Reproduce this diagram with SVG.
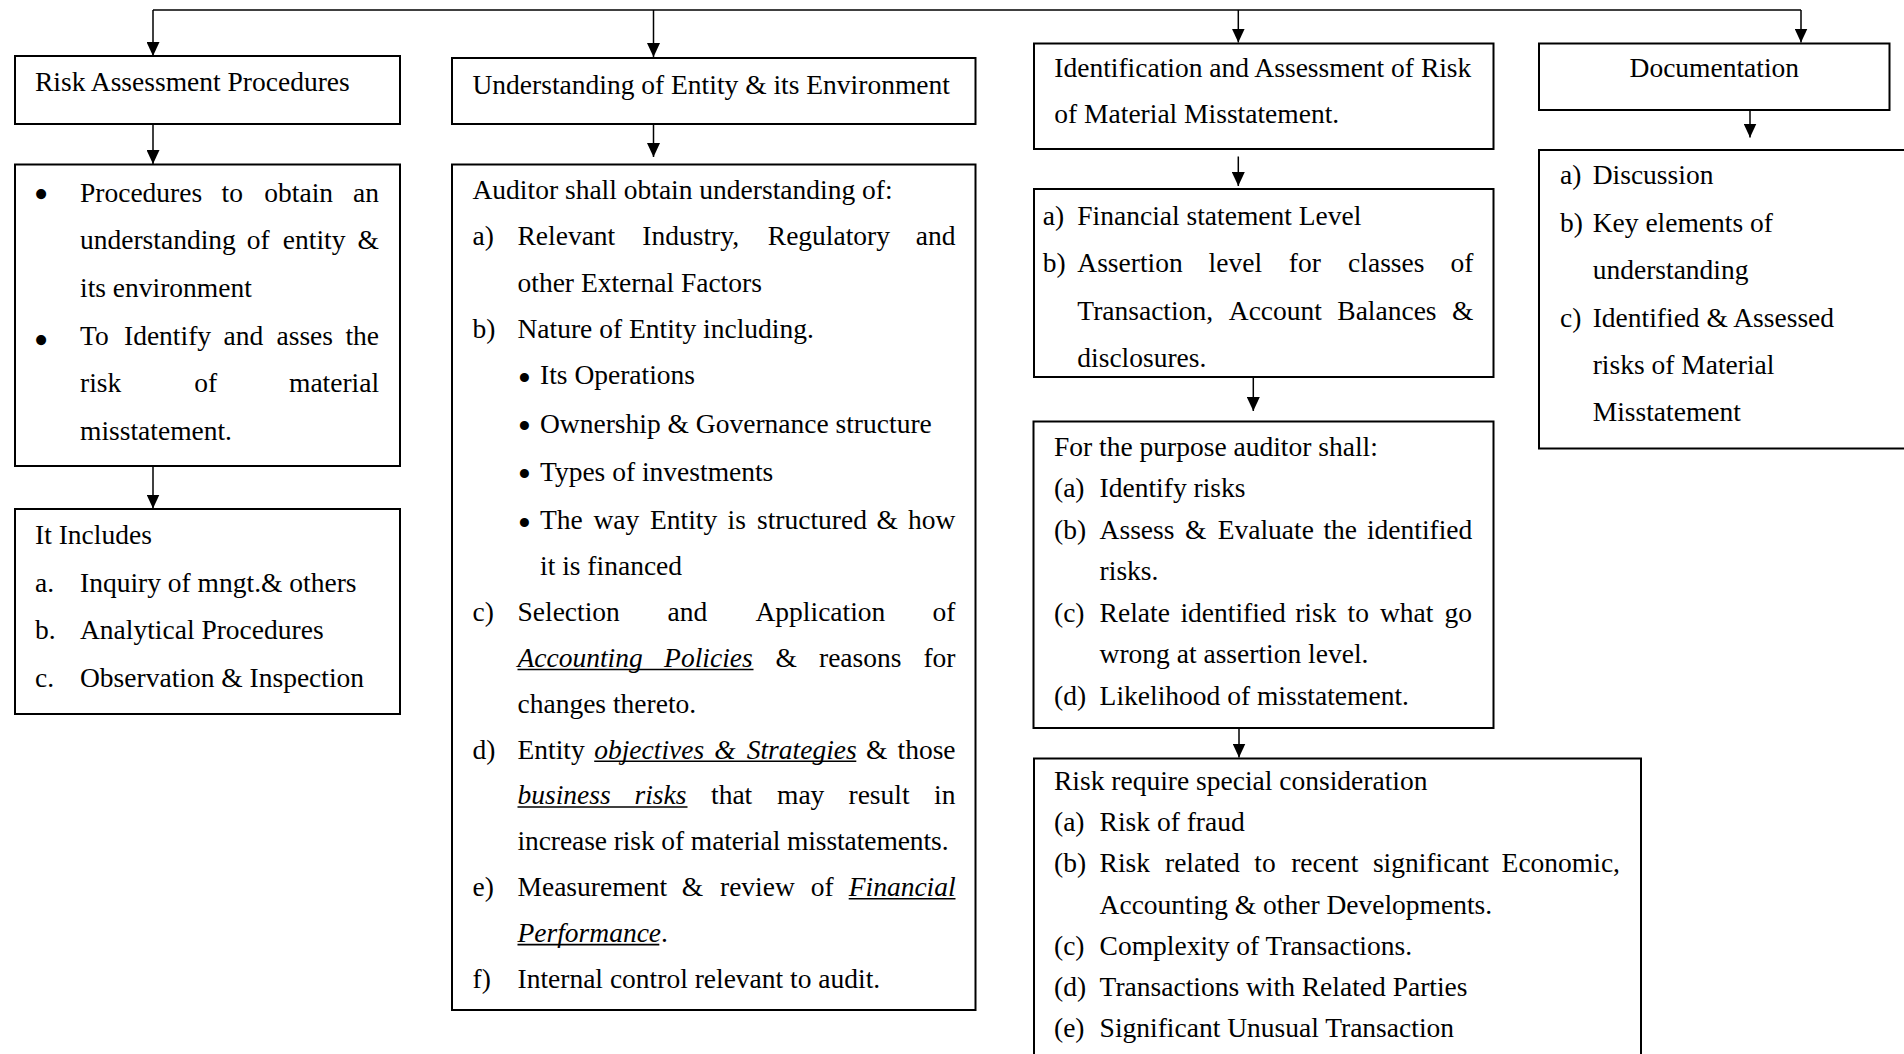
<svg xmlns="http://www.w3.org/2000/svg" width="1904" height="1054" viewBox="0 0 1904 1054">
  <style>
    .box { fill: #fff; stroke: #000; stroke-width: 2; }
    .conn { stroke: #000; stroke-width: 1.5; fill: none; }
    .ul { stroke: #000; stroke-width: 1.6; }
    text { font-family: "Liberation Serif", "Times New Roman", serif; font-size: 27.5px; fill: #000; }
    .it { font-style: italic; }
    .mid { text-anchor: middle; }
    .blt1 { font-size: 42px; text-anchor: middle; }
    .blt2 { font-size: 38px; text-anchor: middle; }
  </style>
  <defs>
    <marker id="arrow" viewBox="0 0 14 13" refX="14" refY="6.5" markerWidth="14" markerHeight="13" markerUnits="userSpaceOnUse" orient="auto">
      <path d="M0,0 L14,6.5 L0,13 z" fill="#000"/>
    </marker>
  </defs>

  <rect x="0" y="0" width="1904" height="1054" fill="#fff"/>

  <!-- connectors -->
  <g id="connectors">
    <line class="conn" x1="153" y1="10" x2="1801" y2="10"/>
    <line class="conn" x1="153" y1="10" x2="153" y2="56" marker-end="url(#arrow)"/>
    <line class="conn" x1="653.5" y1="10" x2="653.5" y2="57" marker-end="url(#arrow)"/>
    <line class="conn" x1="1238.3" y1="10" x2="1238.3" y2="42.5" marker-end="url(#arrow)"/>
    <line class="conn" x1="1801" y1="10" x2="1801" y2="42.5" marker-end="url(#arrow)"/>
    <line class="conn" x1="153" y1="124" x2="153" y2="164" marker-end="url(#arrow)"/>
    <line class="conn" x1="153" y1="466" x2="153" y2="508.5" marker-end="url(#arrow)"/>
    <line class="conn" x1="653.5" y1="124" x2="653.5" y2="157" marker-end="url(#arrow)"/>
    <line class="conn" x1="1238.3" y1="156.5" x2="1238.3" y2="186" marker-end="url(#arrow)"/>
    <line class="conn" x1="1253.3" y1="377" x2="1253.3" y2="411" marker-end="url(#arrow)"/>
    <line class="conn" x1="1239" y1="728" x2="1239" y2="757.5" marker-end="url(#arrow)"/>
    <line class="conn" x1="1750" y1="110" x2="1750" y2="137.5" marker-end="url(#arrow)"/>
  </g>

  <!-- column 1 -->
  <g id="risk-assessment-procedures">
    <rect class="box" x="15" y="56" width="385" height="68"/>
    <text x="35" y="91">Risk Assessment Procedures</text>
  </g>

  <g id="procedures-purpose">
    <rect class="box" x="15" y="164.5" width="385" height="301.5"/>
    <text class="blt1" x="41" y="208">•</text>
    <text y="201.7"><tspan x="80">Procedures</tspan><tspan x="221.6">to</tspan><tspan x="264.3">obtain</tspan><tspan x="353">an</tspan></text>
    <text y="249.4"><tspan x="80">understanding</tspan><tspan x="246.7">of</tspan><tspan x="282.8">entity</tspan><tspan x="357.6">&amp;</tspan></text>
    <text x="80" y="297">its environment</text>
    <text class="blt1" x="41" y="353.5">•</text>
    <text y="344.7"><tspan x="80">To</tspan><tspan x="124">Identify</tspan><tspan x="223.5">and</tspan><tspan x="276.5">asses</tspan><tspan x="345.4">the</tspan></text>
    <text y="392.3"><tspan x="80">risk</tspan><tspan x="194.3">of</tspan><tspan x="289">material</tspan></text>
    <text x="80" y="440">misstatement.</text>
  </g>

  <g id="it-includes">
    <rect class="box" x="15" y="509" width="385" height="205"/>
    <text x="35" y="544">It Includes</text>
    <text x="35" y="591.7">a.</text><text x="80" y="591.7">Inquiry of mngt.&amp; others</text>
    <text x="35" y="639.4">b.</text><text x="80" y="639.4">Analytical Procedures</text>
    <text x="35" y="687">c.</text><text x="80" y="687">Observation &amp; Inspection</text>
  </g>

  <!-- column 2 -->
  <g id="understanding-entity">
    <rect class="box" x="452" y="58" width="523.5" height="66"/>
    <text x="472.5" y="94">Understanding of Entity &amp; its Environment</text>
  </g>

  <g id="auditor-understanding">
    <rect class="box" x="452" y="164.5" width="523.5" height="845.5"/>
    <text x="472.5" y="199">Auditor shall obtain understanding of:</text>
    <text x="472.5" y="245.3">a)</text>
    <text y="245.3"><tspan x="517.5">Relevant</tspan><tspan x="642.3">Industry,</tspan><tspan x="767.8">Regulatory</tspan><tspan x="915.8">and</tspan></text>
    <text x="517.5" y="291.6">other External Factors</text>
    <text x="472.5" y="337.9">b)</text>
    <text x="517.5" y="337.9">Nature of Entity including.</text>
    <text class="blt2" x="524.5" y="390.6">•</text>
    <text x="540" y="384.2">Its Operations</text>
    <text class="blt2" x="524.5" y="438.9">•</text>
    <text x="540" y="432.5">Ownership &amp; Governance structure</text>
    <text class="blt2" x="524.5" y="487.2">•</text>
    <text x="540" y="480.8">Types of investments</text>
    <text class="blt2" x="524.5" y="535.7">•</text>
    <text y="529.3"><tspan x="540">The</tspan><tspan x="593.5">way</tspan><tspan x="650">Entity</tspan><tspan x="727.5">is</tspan><tspan x="757">structured</tspan><tspan x="876.5">&amp;</tspan><tspan x="908">how</tspan></text>
    <text x="540" y="575.1">it is financed</text>
    <text x="472.5" y="621">c)</text>
    <text y="621"><tspan x="517.5">Selection</tspan><tspan x="667.5">and</tspan><tspan x="755.5">Application</tspan><tspan x="932.5">of</tspan></text>
    <text y="666.8"><tspan class="it" x="517.5">Accounting</tspan><tspan class="it" x="664.1">Policies</tspan><tspan x="775.5">&amp;</tspan><tspan x="819">reasons</tspan><tspan x="923.4">for</tspan></text>
    <line class="ul" x1="517.5" y1="669.5" x2="753.5" y2="669.5"/>
    <text x="517.5" y="712.7">changes thereto.</text>
    <text x="472.5" y="758.5">d)</text>
    <text y="758.5"><tspan x="517.5">Entity</tspan><tspan class="it" x="594.2">objectives</tspan><tspan class="it" x="714.3">&amp;</tspan><tspan class="it" x="746.7">Strategies</tspan><tspan x="866.1">&amp;</tspan><tspan x="897.5">those</tspan></text>
    <line class="ul" x1="594.2" y1="761.2" x2="856.3" y2="761.2"/>
    <text y="804.3"><tspan class="it" x="517.5">business</tspan><tspan class="it" x="634.5">risks</tspan><tspan x="711">that</tspan><tspan x="777">may</tspan><tspan x="848.5">result</tspan><tspan x="934">in</tspan></text>
    <line class="ul" x1="517.5" y1="807" x2="687.5" y2="807"/>
    <text x="517.5" y="850.2" textLength="431" lengthAdjust="spacing">increase risk of material misstatements.</text>
    <text x="472.5" y="896">e)</text>
    <text y="896"><tspan x="517.5">Measurement</tspan><tspan x="681.7">&amp;</tspan><tspan x="720">review</tspan><tspan x="810.7">of</tspan><tspan class="it" x="848.7">Financial</tspan></text>
    <line class="ul" x1="848.7" y1="898.7" x2="955.5" y2="898.7"/>
    <text x="517.5" y="941.9"><tspan class="it">Performance</tspan>.</text>
    <line class="ul" x1="517.5" y1="944.6" x2="659.3" y2="944.6"/>
    <text x="472.5" y="987.7">f)</text>
    <text x="517.5" y="987.7">Internal control relevant to audit.</text>
  </g>

  <!-- column 3 -->
  <g id="identification-assessment">
    <rect class="box" x="1034" y="43.5" width="459.5" height="105.5"/>
    <text x="1054.3" y="77.3">Identification and Assessment of Risk</text>
    <text x="1054.3" y="123.3">of Material Misstatement.</text>
  </g>

  <g id="assessment-levels">
    <rect class="box" x="1034" y="189" width="459.5" height="188"/>
    <text x="1042.7" y="225">a)</text>
    <text x="1077.3" y="225">Financial statement Level</text>
    <text x="1042.7" y="271.7">b)</text>
    <text y="271.7"><tspan x="1077.3">Assertion</tspan><tspan x="1208.6">level</tspan><tspan x="1288.8">for</tspan><tspan x="1348.1">classes</tspan><tspan x="1450.4">of</tspan></text>
    <text y="320"><tspan x="1077.3">Transaction,</tspan><tspan x="1228.8">Account</tspan><tspan x="1337.3">Balances</tspan><tspan x="1451.9">&amp;</tspan></text>
    <text x="1077.3" y="366.7">disclosures.</text>
  </g>

  <g id="auditor-shall">
    <rect class="box" x="1033.5" y="421.5" width="460" height="306.5"/>
    <text x="1054" y="456">For the purpose auditor shall:</text>
    <text x="1054" y="497.4">(a)</text>
    <text x="1099.6" y="497.4">Identify risks</text>
    <text x="1054" y="538.9">(b)</text>
    <text y="538.9"><tspan x="1099.6">Assess</tspan><tspan x="1184.9">&amp;</tspan><tspan x="1217.7">Evaluate</tspan><tspan x="1323.4">the</tspan><tspan x="1366.9">identified</tspan></text>
    <text x="1099.6" y="580.3">risks.</text>
    <text x="1054" y="621.8">(c)</text>
    <text y="621.8"><tspan x="1099.6">Relate</tspan><tspan x="1180.4">identified</tspan><tspan x="1295.2">risk</tspan><tspan x="1347.6">to</tspan><tspan x="1380">what</tspan><tspan x="1444.6">go</tspan></text>
    <text x="1099.6" y="663.2">wrong at assertion level.</text>
    <text x="1054" y="704.7">(d)</text>
    <text x="1099.6" y="704.7">Likelihood of misstatement.</text>
  </g>

  <g id="special-consideration">
    <rect class="box" x="1034" y="758.5" width="607" height="320"/>
    <text x="1054" y="789.6">Risk require special consideration</text>
    <text x="1054" y="830.9">(a)</text>
    <text x="1099.6" y="830.9">Risk of fraud</text>
    <text x="1054" y="872.2">(b)</text>
    <text y="872.2"><tspan x="1099.6">Risk</tspan><tspan x="1165">related</tspan><tspan x="1254.3">to</tspan><tspan x="1291.2">recent</tspan><tspan x="1372.9">significant</tspan><tspan x="1501.6">Economic,</tspan></text>
    <text x="1099.6" y="913.5">Accounting &amp; other Developments.</text>
    <text x="1054" y="954.8">(c)</text>
    <text x="1099.6" y="954.8">Complexity of Transactions.</text>
    <text x="1054" y="996.1">(d)</text>
    <text x="1099.6" y="996.1">Transactions with Related Parties</text>
    <text x="1054" y="1037.4">(e)</text>
    <text x="1099.6" y="1037.4">Significant Unusual Transaction</text>
  </g>

  <!-- column 4 -->
  <g id="documentation">
    <rect class="box" x="1539" y="43.5" width="350.5" height="66.5"/>
    <text class="mid" x="1714.3" y="77.3">Documentation</text>
  </g>

  <g id="documentation-items">
    <rect class="box" x="1539" y="150" width="380" height="298.5"/>
    <text x="1560" y="184.3">a)</text>
    <text x="1592.7" y="184.3">Discussion</text>
    <text x="1560" y="231.7">b)</text>
    <text x="1592.7" y="231.7">Key elements of</text>
    <text x="1592.7" y="279.1">understanding</text>
    <text x="1560" y="326.5">c)</text>
    <text x="1592.7" y="326.5">Identified &amp; Assessed</text>
    <text x="1592.7" y="373.9">risks of Material</text>
    <text x="1592.7" y="421.3">Misstatement</text>
  </g>
</svg>
